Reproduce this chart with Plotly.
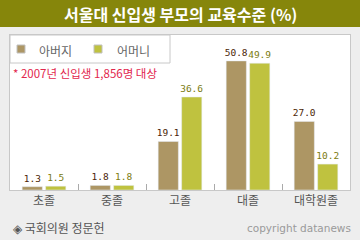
import plotly.graph_objects as go

categories = ["초졸", "중졸", "고졸", "대졸", "대학원졸"]
father = [1.3, 1.8, 19.1, 50.8, 27.0]
mother = [1.5, 1.8, 36.6, 49.9, 10.2]
series_names = ["아버지", "어머니"]
title_text = "서울대 신입생 부모의 교육수준 (%)"
note_text = "* 2007년 신입생 1,856명 대상"
source_text = "◈ 국회의원 정문헌"
copyright_text = "copyright datanews"

W, H = 360, 240
L, R, T, B = 10, 350, 35, 190
C_FATHER = "#AD9664"
C_MOTHER = "#BFC23F"
KR = "Noto Sans CJK KR"
NUM = "DejaVu Sans Mono"


def px(x):
    return (x - L) / (R - L)


def py(y):
    return (B - y) / (B - T)


fig = go.Figure()
fig.add_trace(go.Bar(
    x=categories, y=father, name=series_names[0], marker_color=C_FATHER,
    texttemplate="%{y:.1f}", textposition="outside", cliponaxis=False,
    constraintext="none",
    textfont=dict(family=NUM, size=9.5, color="#4A1E06"),
))
fig.add_trace(go.Bar(
    x=categories, y=mother, name=series_names[1], marker_color=C_MOTHER,
    texttemplate="%{y:.1f}", textposition="outside", cliponaxis=False,
    constraintext="none",
    textfont=dict(family=NUM, size=9.5, color="#7B7B10"),
))

shapes = [
    # title bar
    dict(type="rect", xref="paper", yref="paper", x0=px(0), x1=px(360),
         y0=py(27), y1=py(0), fillcolor="#86860B", line_width=0, layer="below"),
    # legend box
    dict(type="rect", xref="paper", yref="paper", x0=px(10), x1=px(170),
         y0=py(63), y1=py(35), fillcolor="rgba(0,0,0,0)",
         line=dict(color="#C8C8C8", width=1)),
    # legend markers
    dict(type="rect", xref="paper", yref="paper", x0=px(17), x1=px(25),
         y0=py(53), y1=py(45), fillcolor=C_FATHER,
         line=dict(color="#C0C0C0", width=1)),
    dict(type="rect", xref="paper", yref="paper", x0=px(94), x1=px(102),
         y0=py(53), y1=py(45), fillcolor=C_MOTHER,
         line=dict(color="#C0C0C0", width=1)),
]

annotations = [
    dict(text="<b>" + title_text + "</b>", x=px(180), y=py(14), xref="paper", yref="paper",
         showarrow=False, xanchor="center", yanchor="middle",
         font=dict(family=KR, size=16, color="white")),
    dict(text=series_names[0], x=px(37), y=py(50), xref="paper", yref="paper",
         showarrow=False, xanchor="left", yanchor="middle",
         font=dict(family=KR, size=12, color="#666666")),
    dict(text=series_names[1], x=px(115), y=py(50), xref="paper", yref="paper",
         showarrow=False, xanchor="left", yanchor="middle",
         font=dict(family=KR, size=12, color="#666666")),
    dict(text=note_text, x=px(11), y=py(73), xref="paper", yref="paper",
         showarrow=False, xanchor="left", yanchor="middle",
         font=dict(family=KR, size=11.5, color="#E2264D")),
    dict(text=source_text, x=px(11), y=py(227), xref="paper", yref="paper",
         showarrow=False, xanchor="left", yanchor="middle",
         font=dict(family=KR, size=12, color="#555555")),
    dict(text=copyright_text, x=px(353), y=py(228), xref="paper", yref="paper",
         showarrow=False, xanchor="right", yanchor="middle",
         font=dict(family="DejaVu Sans", size=10.5, color="#9A9A9A")),
]

fig.update_layout(
    width=W, height=H,
    margin=dict(l=L, r=W - R, t=T, b=H - B, pad=0),
    paper_bgcolor="#EEEEEE", plot_bgcolor="white",
    barmode="group", bargap=0.31, bargroupgap=0.14,
    showlegend=False,
    shapes=shapes, annotations=annotations,
    xaxis=dict(showline=True, linecolor="#C8C8C8", linewidth=1, mirror=True,
               ticks="inside", tickson="boundaries", ticklen=6,
               tickcolor="#AAAAAA", showgrid=False,
               tickfont=dict(family=KR, size=12, color="#555555")),
    yaxis=dict(range=[0, 61], showline=True, linecolor="#C8C8C8", linewidth=1,
               mirror=True, showticklabels=False, showgrid=False,
               zeroline=False, ticks=""),
)

fig.write_html("out.html")
